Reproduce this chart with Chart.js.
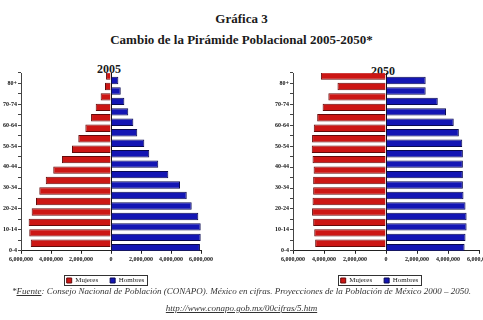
<!DOCTYPE html>
<html>
<head>
<meta charset="utf-8">
<script src="https://cdn.jsdelivr.net/npm/chart.js@4/dist/chart.umd.min.js"></script>
<style>
  html, body { margin: 0; padding: 0; background: #fff; }
  body { width: 483px; height: 320px; position: relative; overflow: hidden; font-family: "Liberation Serif", serif; }
  .t { position: absolute; left: 0; width: 483px; text-align: center; color: #1a1a1a; font-weight: bold; }
  .yr { position: absolute; font-weight: bold; font-size: 12px; color: #1a1a1a; }
  .box { position: absolute; }
  .note { position: absolute; left: 0; width: 483px; text-align: center; font-style: italic; font-size: 9px; color: #333; white-space: nowrap; }
</style>
</head>
<body>
<div class="t" style="top:11px;font-size:13px;">Gráfica 3</div>
<div class="t" style="top:32px;font-size:13px;">Cambio de la Pirámide Poblacional 2005-2050*</div>
<div class="yr" style="left:97px;top:62px;">2005</div>
<div class="yr" style="left:371px;top:64px;">2050</div>
<div class="box" style="left:0;top:66px;width:215px;height:228px;"><canvas id="c2005"></canvas></div>
<div class="box" style="left:270px;top:66px;width:223px;height:228px;"><canvas id="c2050"></canvas></div>
<div class="note" style="top:286px;">*<u>Fuente</u>: Consejo Nacional de Población (CONAPO). México en cifras. Proyecciones de la Población de México 2000 – 2050.</div>
<div class="note" style="top:303px;"><u>http://www.conapo.gob.mx/00cifras/5.htm</u></div>
<script>
const ageGroups = ["0-4", "5-9", "10-14", "15-19", "20-24", "25-29", "30-34", "35-39", "40-44",
  "45-49", "50-54", "55-59", "60-64", "65-69", "70-74", "75-79", "80+"];
const seriesNames = ["Mujeres", "Hombres"];
const mujeres2005 = [5350000, 5450000, 5490000, 5290000, 5000000, 4780000, 4350000, 3850000, 3270000,
  2600000, 2180000, 1710000, 1330000, 1020000, 690000, 400000, 330000];
const hombres2005 = [5930000, 5980000, 5980000, 5820000, 5380000, 5050000, 4600000, 3820000, 3150000,
  2550000, 2220000, 1750000, 1490000, 1150000, 890000, 650000, 490000];
const mujeres2050 = [4570000, 4630000, 4700000, 4770000, 4740000, 4700000, 4700000, 4670000, 4740000,
  4790000, 4770000, 4660000, 4440000, 4090000, 3720000, 3130000, 4200000];
const hombres2050 = [5070000, 5130000, 5200000, 5200000, 5130000, 5000000, 4960000, 4960000, 4960000,
  4960000, 4920000, 4700000, 4370000, 3870000, 3340000, 2560000, 2560000];
const xTicks = [-6000000, -4000000, -2000000, 0, 2000000, 4000000, 6000000];

const tickFont = { family: "Liberation Serif", size: 6, weight: "bold" };

// borde alrededor de la leyenda
const legendBorder = {
  id: "legendBorder",
  afterDraw(chart) {
    const lg = chart.legend;
    if (!lg || !lg.legendHitBoxes.length) return;
    const a = lg.legendHitBoxes[0], b = lg.legendHitBoxes[lg.legendHitBoxes.length - 1];
    const ctx = chart.ctx;
    ctx.save();
    ctx.strokeStyle = "#333";
    ctx.lineWidth = 1;
    ctx.strokeRect(Math.round(a.left) - 2.5, Math.round(a.top) - 1.5, Math.round(b.left + b.width - a.left) + 5, Math.round(a.height) + 3);
    ctx.restore();
  }
};

function makePyramid(id, women, men, yAxisWidth) {
  const ctx = document.getElementById(id).getContext("2d");
  return new Chart(ctx, {
    type: "bar",
    data: {
      labels: ageGroups,
      datasets: [{
        label: seriesNames[0],
        data: women.map(v => -v),
        backgroundColor: "rgb(204, 22, 20)",
        borderColor: "rgb(100, 10, 10)",
        borderWidth: 1,
        categoryPercentage: 0.86,
        barPercentage: 1.65
      }, {
        label: seriesNames[1],
        data: men,
        backgroundColor: "rgb(20, 22, 180)",
        borderColor: "rgb(10, 10, 80)",
        borderWidth: 1,
        categoryPercentage: 0.86,
        barPercentage: 1.65
      }]
    },
    options: {
      indexAxis: "y",
      responsive: true,
      maintainAspectRatio: false,
      animation: false,
      layout: { padding: { top: 7, left: 0, right: 4, bottom: 0 } },
      scales: {
        x: {
          min: xTicks[0],
          max: xTicks[xTicks.length - 1],
          afterBuildTicks: s => { s.ticks = xTicks.map(v => ({ value: v })); },
          border: { color: "#222", width: 1 },
          grid: {
            color: c => (c.tick && c.tick.value === 0 ? "#111" : "rgba(0,0,0,0)"),
            tickColor: "#222",
            tickLength: 3
          },
          ticks: {
            font: tickFont,
            color: "#111",
            maxRotation: 0,
            padding: 2,
            callback: v => Math.abs(v).toLocaleString("en-US")
          }
        },
        y: {
          reverse: true,
          border: { color: "#444", width: 1 },
          grid: { drawOnChartArea: false, tickColor: "#444", tickLength: 3, offset: true },
          afterFit: s => { s.width = yAxisWidth; },
          ticks: {
            autoSkip: false,
            font: tickFont,
            color: "#111",
            padding: 1,
            labelOffset: 5,
            callback: (v, i) => (i % 2 === 0 ? ageGroups[i] : "")
          }
        }
      },
      plugins: {
        legend: {
          position: "bottom",
          labels: {
            font: { family: "Liberation Serif", size: 7 },
            color: "#222",
            boxWidth: 5,
            boxHeight: 5,
            padding: 12
          }
        },
        tooltip: { enabled: false }
      }
    },
    plugins: [legendBorder]
  });
}

makePyramid("c2005", mujeres2005, hombres2005, 21);
makePyramid("c2050", mujeres2050, hombres2050, 23);
</script>
</body>
</html>
